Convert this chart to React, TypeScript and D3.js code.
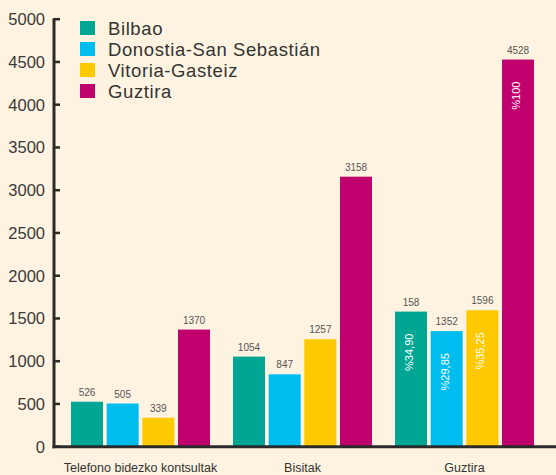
import React, { useEffect, useRef } from 'react';
import * as d3 from 'd3';

// Chart data
const categories = ['Telefono bidezko kontsultak', 'Bisitak', 'Guztira'];
const seriesNames = ['Bilbao', 'Donostia-San Sebastián', 'Vitoria-Gasteiz', 'Guztira'];
const seriesColors = ['#00a693', '#00bdf0', '#ffc900', '#c0006c'];
const bilbao = [526, 1054, 1580];
const donostia = [505, 847, 1352];
const vitoria = [339, 1257, 1596];
const guztira = [1370, 3158, 4528];
// label shown above the bar (the source prints "158" for Bilbao total)
const bilbaoLabels = ['526', '1054', '158'];
const percentLabels = [['', '', '%34,90'], ['', '', '%29,85'], ['', '', '%35,25'], ['', '', '%100']];
const yTicks = [0, 500, 1000, 1500, 2000, 2500, 3000, 3500, 4000, 4500, 5000];

const App = () => {
  const svgRef = useRef<SVGSVGElement>(null);

  useEffect(() => {
    const W = 556;
    const H = 475;
    const svg = d3.select(svgRef.current);
    svg.selectAll('*').remove();

    const font = '"Liberation Sans", Arial, Helvetica, sans-serif';
    const series = [bilbao, donostia, vitoria, guztira];
    const labels = [bilbaoLabels, donostia.map(String), vitoria.map(String), guztira.map(String)];

    svg.append('rect').attr('width', W).attr('height', H).attr('fill', '#fef3e0');

    const y = d3.scaleLinear().domain([0, 5000]).range([446.7, 19.2]);
    const x0 = d3.scaleBand().domain(categories).range([71, 534]).paddingInner(0.142).paddingOuter(0);
    const x1 = d3.scaleBand().domain(seriesNames).range([0, x0.bandwidth()]).paddingInner(0.103);
    const axisX = 54;

    // bars
    categories.forEach((cat, ci) => {
      const g = svg.append('g').attr('transform', `translate(${x0(cat)!},0)`);
      seriesNames.forEach((s, si) => {
        const v = series[si][ci];
        const bx = x1(s)!;
        const bw = x1.bandwidth();
        g.append('rect')
          .attr('x', bx)
          .attr('y', y(v))
          .attr('width', bw)
          .attr('height', y(0) - y(v))
          .attr('fill', seriesColors[si]);
        g.append('text')
          .attr('x', bx + bw / 2)
          .attr('y', y(v) - 6)
          .attr('text-anchor', 'middle')
          .attr('font-family', font)
          .attr('font-size', 10)
          .attr('fill', '#555')
          .text(labels[si][ci]);
        const p = percentLabels[si][ci];
        if (p) {
          g.append('text')
            .attr('transform', `translate(${bx + bw / 2 + 2},${y(v) + 22}) rotate(-90)`)
            .attr('text-anchor', 'end')
            .attr('font-family', font)
            .attr('font-size', 11)
            .attr('fill', '#fff')
            .text(p);
        }
      });
      svg.append('text')
        .attr('x', x0(cat)! + x0.bandwidth() / 2)
        .attr('y', 472)
        .attr('text-anchor', 'middle')
        .attr('font-family', font)
        .attr('font-size', 12.5)
        .attr('fill', '#333')
        .text(cat);
    });

    // y axis
    const axis = svg.append('g');
    axis.append('line')
      .attr('x1', axisX).attr('x2', axisX)
      .attr('y1', y(5000) - 1).attr('y2', y(0) + 1.5)
      .attr('stroke', '#2a2a2a').attr('stroke-width', 3);
    axis.append('line')
      .attr('x1', axisX - 1.5).attr('x2', W)
      .attr('y1', y(0)).attr('y2', y(0))
      .attr('stroke', '#2a2a2a').attr('stroke-width', 3);
    yTicks.forEach((t) => {
      axis.append('line')
        .attr('x1', axisX).attr('x2', axisX + 6)
        .attr('y1', y(t)).attr('y2', y(t))
        .attr('stroke', '#2a2a2a').attr('stroke-width', 2.5);
      axis.append('text')
        .attr('x', 45)
        .attr('y', y(t) + 6)
        .attr('text-anchor', 'end')
        .attr('font-family', font)
        .attr('font-size', 16.5)
        .attr('fill', '#3a3a3a')
        .text(t);
    });

    // legend
    const legend = svg.append('g').attr('transform', 'translate(80,21)');
    seriesNames.forEach((s, i) => {
      legend.append('rect')
        .attr('x', 0).attr('y', i * 21)
        .attr('width', 15).attr('height', 14)
        .attr('fill', seriesColors[i]);
      legend.append('text')
        .attr('x', 28).attr('y', i * 21 + 13.5)
        .attr('font-family', font)
        .attr('font-size', 18.5)
        .attr('letter-spacing', 0.6)
        .attr('fill', '#333')
        .text(s);
    });
  }, []);

  return <svg ref={svgRef} width={556} height={475} style={{ position: 'absolute', left: 0, top: 0 }}></svg>;
};

export default App;
